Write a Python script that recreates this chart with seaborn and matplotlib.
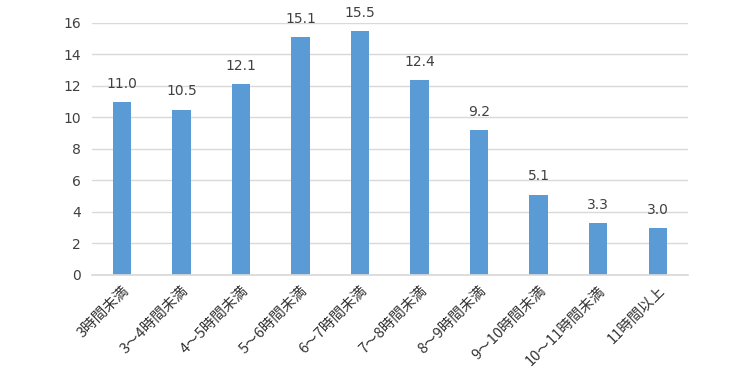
import matplotlib
matplotlib.use("Agg")
import matplotlib.pyplot as plt
import seaborn as sns
import pandas as pd

categories = ["3時間未満", "3～4時間未満", "4～5時間未満", "5～6時間未満", "6～7時間未満",
              "7～8時間未満", "8～9時間未満", "9～10時間未満", "10～11時間未満", "11時間以上"]
values = [11.0, 10.5, 12.1, 15.1, 15.5, 12.4, 9.2, 5.1, 3.3, 3.0]
yticks = [0, 2, 4, 6, 8, 10, 12, 14, 16]

sns.set_theme(style="white")
plt.rcParams['font.family'] = ['Noto Sans CJK JP', 'DejaVu Sans']

df = pd.DataFrame({"cat": categories, "val": values})

fig = plt.figure(figsize=(7.5, 3.7), dpi=100)
ax = fig.add_axes([0.1227, 0.257, 0.794, 0.681])
sns.barplot(data=df, x="cat", y="val", color="#5B9BD5", saturation=1, width=0.31,
            linewidth=0, ax=ax)

ax.set_ylim(0, 16)
ax.set_xlim(-0.5, len(categories) - 0.5)
ax.set_yticks(yticks)
ax.set_yticklabels([str(t) for t in yticks], fontsize=10, color="#404040", family=['DejaVu Sans'])
ax.yaxis.grid(True, color="#D9D9D9", linewidth=1)
ax.set_axisbelow(True)
for s in ["top", "right", "left"]:
    ax.spines[s].set_visible(False)
ax.spines["bottom"].set_color("#D9D9D9")
ax.tick_params(axis="both", length=0, pad=8)
ax.set_xlabel("")
ax.set_ylabel("")
ax.set_xticks(range(len(categories)))
ax.set_xticklabels(categories, rotation=45, ha="right", rotation_mode="anchor",
                   fontsize=10.5, color="#333333")
ax.tick_params(axis="x", pad=6)

for i, v in enumerate(values):
    ax.annotate(f"{v:.1f}", (i, v), xytext=(0, 8), textcoords="offset points",
                ha="center", va="bottom", fontsize=10, color="#404040", family=['DejaVu Sans'])

fig.savefig("out.png", dpi=100, facecolor="white")
